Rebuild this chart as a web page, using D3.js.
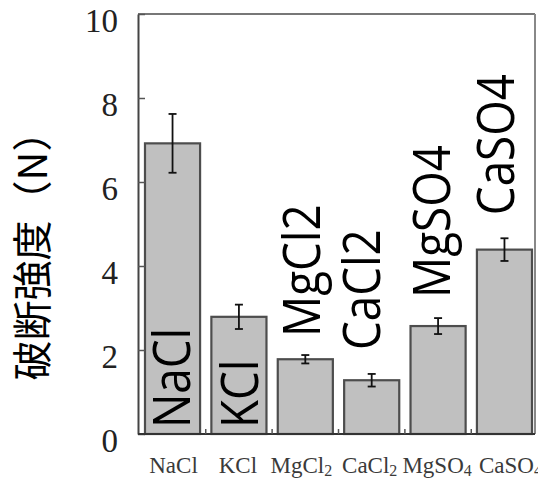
<!DOCTYPE html>
<html>
<head>
<meta charset="utf-8">
<script src="https://cdn.jsdelivr.net/npm/d3@7"></script>
<style>
  html, body { margin: 0; padding: 0; background: #fff; }
  svg { display: block; }
</style>
</head>
<body>
<svg id="chart" width="538" height="482"></svg>
<script>
// ---- data ----
const categories = ["NaCl", "KCl", "MgCl2", "CaCl2", "MgSO4", "CaSO4"];
const values = [6.92, 2.79, 1.78, 1.28, 2.57, 4.39];
const errors = [0.70, 0.29, 0.10, 0.15, 0.19, 0.27];
const yTicks = [0, 2, 4, 6, 8, 10];
// axis tick labels (base text + subscript)
const xLabelBase = ["NaCl", "KCl", "MgCl", "CaCl", "MgSO", "CaSO"];
const xLabelSub = ["", "", "2", "2", "4", "4"];
// in-bar annotations (text and the value at which each label starts)
const barLabels = ["NaCl", "KCl", "MgCl2", "CaCl2", "MgSO4", "CaSO4"];
const barLabelStart = [0.14, 0.14, 2.31, 2.0, 3.24, 5.21];
const barLabelShift = [17, 19, 15, 8, 12, 10];
const xLabelShift = [1, -1, -4, -2, -1, 6];
const yTitle = "破断強度（N）";

// ---- layout ----
const svg = d3.select("#chart");
const mLeft = 138, mRight = 535, mTop = 14, mBottom = 434;

const x = d3.scaleBand().domain(categories).range([142, 535])
  .paddingInner(0.17).paddingOuter(0.045);
const y = d3.scaleLinear().domain([0, 10]).range([mBottom, mTop]);

// frame top/right
svg.append("line").attr("x1", mLeft).attr("x2", mRight).attr("y1", mTop).attr("y2", mTop)
  .attr("stroke", "#777").attr("stroke-width", 2);
svg.append("line").attr("x1", mRight).attr("x2", mRight).attr("y1", mTop).attr("y2", mBottom)
  .attr("stroke", "#888").attr("stroke-width", 2);

// bars
svg.selectAll("rect.bar").data(categories).enter().append("rect")
  .attr("class", "bar")
  .attr("x", d => x(d))
  .attr("width", x.bandwidth())
  .attr("y", (d, i) => y(values[i]))
  .attr("height", (d, i) => y(0) - y(values[i]))
  .attr("fill", "#c0c0c0")
  .attr("stroke", "#4d4d4d")
  .attr("stroke-width", 2.2);

// error bars
const eg = svg.append("g").attr("stroke", "#111").attr("stroke-width", 1.8);
categories.forEach((c, i) => {
  const cx = x(c) + x.bandwidth() / 2;
  const y1 = y(values[i] + errors[i]), y2 = y(values[i] - errors[i]);
  eg.append("line").attr("x1", cx).attr("x2", cx).attr("y1", y1).attr("y2", y2);
  eg.append("line").attr("x1", cx - 4).attr("x2", cx + 4).attr("y1", y1).attr("y2", y1);
  eg.append("line").attr("x1", cx - 4).attr("x2", cx + 4).attr("y1", y2).attr("y2", y2);
});

// left axis
const yAxis = d3.axisLeft(y).tickValues(yTicks).tickSize(0).tickPadding(0);
const ya = svg.append("g").attr("transform", `translate(${mLeft},0)`).call(yAxis);
ya.select(".domain").attr("stroke", "#444").attr("stroke-width", 2);
ya.selectAll(".tick text").remove();
ya.selectAll(".tick").append("line")
  .attr("x1", 0).attr("x2", 7).attr("stroke", "#555").attr("stroke-width", 1.5);
ya.selectAll(".tick").append("text")
  .attr("x", -20).attr("y", 17.5)
  .attr("text-anchor", "end")
  .attr("fill", "#222")
  .style("font-family", "'Liberation Serif', 'Times New Roman', serif")
  .style("font-size", "33px")
  .text(d => d);

// bottom axis line
svg.append("line").attr("x1", mLeft).attr("x2", mRight).attr("y1", mBottom).attr("y2", mBottom)
  .attr("stroke", "#333").attr("stroke-width", 2);
// small ticks between bands
const step = x.step();
categories.slice(0, -1).forEach(c => {
  const bx = x(c) + x.bandwidth() + (step - x.bandwidth()) / 2;
  svg.append("line").attr("x1", bx).attr("x2", bx).attr("y1", mBottom).attr("y2", mBottom - 5)
    .attr("stroke", "#555").attr("stroke-width", 1.5);
});

// x labels
categories.forEach((c, i) => {
  const t = svg.append("text")
    .attr("x", x(c) + x.bandwidth() / 2 + xLabelShift[i])
    .attr("y", 473)
    .attr("text-anchor", "middle")
    .attr("fill", "#3a3a3a")
    .style("font-family", "'Liberation Serif', 'Times New Roman', serif")
    .style("font-size", "23px");
  t.append("tspan").text(xLabelBase[i]);
  if (xLabelSub[i]) {
    t.append("tspan").attr("dy", 3).style("font-size", "16px").text(xLabelSub[i]);
  }
});

// in-bar labels
categories.forEach((c, i) => {
  const bx = x(c) + x.bandwidth() / 2 + barLabelShift[i];
  const by = y(barLabelStart[i]);
  svg.append("text")
    .attr("transform", `translate(${bx},${by}) rotate(-90) scale(0.88,1)`)
    .attr("fill", "#000")
    .style("font-family", "'Open Sans', 'Noto Sans', sans-serif")
    .style("font-size", "52px")
    .text(barLabels[i]);
});

// y title
svg.append("text")
  .attr("transform", `translate(47,${(122 + 370) / 2}) rotate(-90)`)
  .attr("text-anchor", "middle")
  .attr("fill", "#000")
  .style("font-family", "'Noto Sans CJK JP', sans-serif")
  .style("font-size", "40px")
  .text(yTitle);
</script>
</body>
</html>
